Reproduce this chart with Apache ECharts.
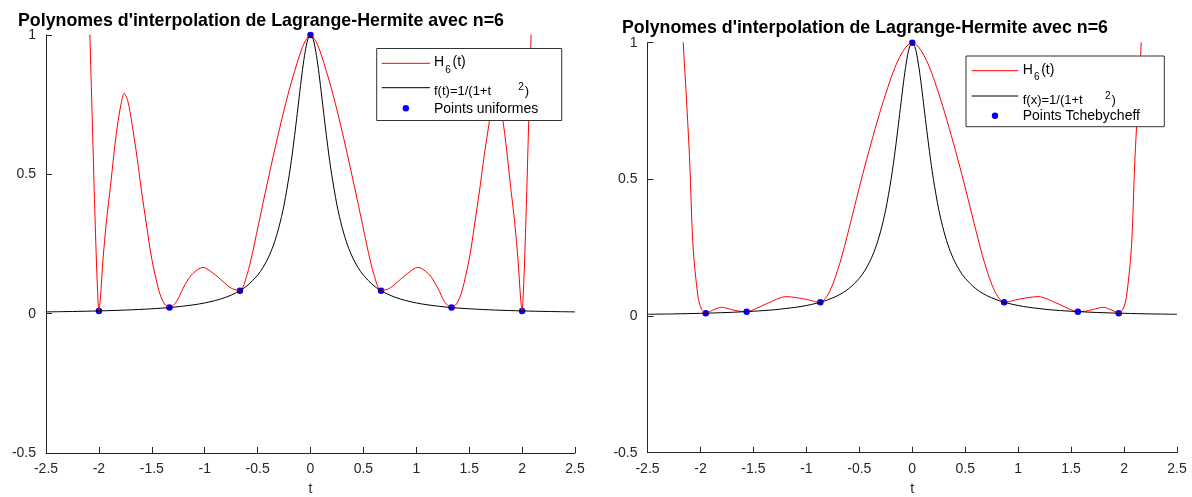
<!DOCTYPE html>
<html>
<head>
<meta charset="utf-8">
<script src="https://cdn.jsdelivr.net/npm/echarts@6/dist/echarts.min.js"></script>
<style>
  html, body { margin: 0; padding: 0; background: #fff; }
  #chart { width: 1192px; height: 497px; }
</style>
</head>
<body>
<div id="chart"></div>
<script>
const titleText = "Polynomes d'interpolation de Lagrange-Hermite avec n=6";

// f(t) = 1/(1+25t^2) (même courbe dans les deux graphes)
const fT = [-2.5, -2.25, -2, -1.75, -1.5, -1.3, -1.1, -1, -0.9, -0.8, -0.7, -0.6, -0.5, -0.45, -0.4, -0.35, -0.3, -0.25, -0.2, -0.175, -0.15, -0.125, -0.1, -0.075, -0.05, -0.025,
  0, 0.025, 0.05, 0.075, 0.1, 0.125, 0.15, 0.175, 0.2, 0.25, 0.3, 0.35, 0.4, 0.45, 0.5, 0.6, 0.7, 0.8, 0.9, 1, 1.1, 1.3, 1.5, 1.75, 2, 2.25, 2.5];
const fV = [0.0064, 0.0078, 0.0099, 0.0129, 0.0175, 0.0231, 0.032, 0.0385, 0.0471, 0.0588, 0.0755, 0.1, 0.138, 0.165, 0.2, 0.246, 0.308, 0.39, 0.5, 0.566, 0.64, 0.719, 0.8, 0.877, 0.941, 0.985,
  1, 0.985, 0.941, 0.877, 0.8, 0.719, 0.64, 0.566, 0.5, 0.39, 0.308, 0.246, 0.2, 0.165, 0.138, 0.1, 0.0755, 0.0588, 0.0471, 0.0385, 0.032, 0.0231, 0.0175, 0.0129, 0.0099, 0.0078, 0.0064];

// H6 avec points uniformes (graphe de gauche)
const hUnifT = [-2.11, -2.085, -2.063, -2.044, -2.0245, -2.012, -2, -1.985, -1.962, -1.928, -1.89, -1.859, -1.827, -1.792, -1.761, -1.725, -1.691, -1.638, -1.597, -1.55,
  -1.502, -1.43, -1.38, -1.3333, -1.267, -1.204, -1.125, -1.015, -0.92, -0.826, -0.748, -0.6667, -0.6, -0.55, -0.511, -0.43, -0.354, -0.27, -0.196, -0.101, -0.05,
  0, 0.05, 0.101, 0.196, 0.27, 0.354, 0.43, 0.511, 0.55, 0.6, 0.6667, 0.748, 0.826, 0.92, 1.015, 1.125, 1.204, 1.267, 1.3333, 1.38, 1.43,
  1.502, 1.55, 1.597, 1.638, 1.691, 1.725, 1.761, 1.792, 1.827, 1.859, 1.89, 1.928, 1.962, 1.985, 2, 2.012, 2.0245, 2.044, 2.063, 2.085, 2.11];
const hUnifV = [1.4, 1, 0.7, 0.438, 0.2, 0.079, 0.0099, 0.06, 0.19, 0.335, 0.46, 0.57, 0.67, 0.75, 0.791, 0.76, 0.69, 0.557, 0.44, 0.318,
  0.2, 0.079, 0.035, 0.022, 0.043, 0.091, 0.139, 0.166, 0.145, 0.115, 0.091, 0.0826, 0.14, 0.215, 0.285, 0.43, 0.562, 0.7, 0.81, 0.93, 0.978,
  1, 0.978, 0.93, 0.81, 0.7, 0.562, 0.43, 0.285, 0.215, 0.14, 0.0826, 0.091, 0.115, 0.145, 0.166, 0.139, 0.091, 0.043, 0.022, 0.035, 0.079,
  0.2, 0.318, 0.44, 0.557, 0.69, 0.76, 0.791, 0.75, 0.67, 0.57, 0.46, 0.335, 0.19, 0.06, 0.0099, 0.079, 0.2, 0.438, 0.7, 1, 1.4];
const nodesUnifT = [-2, -1.3333, -0.6667, 0, 0.6667, 1.3333, 2];
const nodesUnifV = [0.0099, 0.022, 0.0826, 1, 0.0826, 0.022, 0.0099];

// H6 avec points de Tchebycheff (graphe de droite)
const hChebT = [-2.18, -2.162, -2.133, -2.101, -2.07, -2.023, -1.99, -1.9499, -1.915, -1.882, -1.803, -1.708, -1.64, -1.5637, -1.47, -1.377, -1.188, -0.999, -0.93, -0.8678,
  -0.78, -0.684, -0.6, -0.526, -0.45, -0.369, -0.29, -0.212, -0.15, -0.086, -0.04,
  0, 0.04, 0.086, 0.15, 0.212, 0.29, 0.369, 0.45, 0.526, 0.6, 0.684, 0.78,
  0.8678, 0.93, 0.999, 1.188, 1.377, 1.47, 1.5637, 1.64, 1.708, 1.803, 1.882, 1.915, 1.9499, 1.99, 2.023, 2.07, 2.101, 2.133, 2.162, 2.18];
const hChebV = [1.3, 1, 0.802, 0.559, 0.254, 0.071, 0.025, 0.0104, 0.016, 0.022, 0.032, 0.024, 0.018, 0.0161, 0.028, 0.045, 0.071, 0.061, 0.054, 0.0504,
  0.09, 0.193, 0.315, 0.43, 0.545, 0.66, 0.765, 0.858, 0.922, 0.97, 0.992,
  1, 0.992, 0.97, 0.922, 0.858, 0.765, 0.66, 0.545, 0.43, 0.315, 0.193, 0.09,
  0.0504, 0.054, 0.061, 0.071, 0.045, 0.028, 0.0161, 0.018, 0.024, 0.032, 0.022, 0.016, 0.0104, 0.025, 0.071, 0.254, 0.559, 0.802, 1, 1.3];
const nodesChebT = [-1.9499, -1.5637, -0.8678, 0, 0.8678, 1.5637, 1.9499];
const nodesChebV = [0.0104, 0.0161, 0.0504, 1, 0.0504, 0.0161, 0.0104];

const zip = (xs, ys) => xs.map((x, i) => [x, ys[i]]);

const font = "'Liberation Sans', Arial, Helvetica, sans-serif";
const axisColor = '#262626';

function makeXAxis(gridIndex) {
  return {
    gridIndex: gridIndex,
    type: 'value',
    min: -2.5, max: 2.5, interval: 0.5,
    name: 't', nameLocation: 'middle', nameGap: 29,
    nameTextStyle: { fontFamily: font, fontSize: 14, color: axisColor },
    axisLine: { onZero: false, lineStyle: { color: axisColor, width: 1 } },
    axisTick: { inside: true, length: 6, lineStyle: { color: axisColor } },
    axisLabel: { fontFamily: font, fontSize: 14, color: axisColor, margin: 9 },
    splitLine: { show: false }
  };
}

function makeYAxis(gridIndex) {
  return {
    gridIndex: gridIndex,
    type: 'value',
    min: -0.5, max: 1, interval: 0.5,
    axisLine: { show: true, onZero: false, lineStyle: { color: axisColor, width: 1 } },
    axisTick: { show: true, inside: true, length: 6, lineStyle: { color: axisColor } },
    axisLabel: { fontFamily: font, fontSize: 14, color: axisColor, margin: 10 },
    splitLine: { show: false }
  };
}

// légende dessinée à la main (indices et exposants)
function txt(x, y, text, size) {
  return { type: 'text', z: 100, x: x, y: y,
    style: { text: text, font: size + 'px ' + font, fill: '#000', align: 'left', verticalAlign: 'middle' } };
}
function legendBox(b) {
  return [
    { type: 'rect', z: 99, shape: { x: b.x, y: b.y, width: b.w, height: b.h },
      style: { fill: '#fff', stroke: '#333', lineWidth: 1 } },
    { type: 'line', z: 100, shape: { x1: b.lineX1, y1: b.row1, x2: b.lineX2, y2: b.row1 }, style: { stroke: '#ff0000', lineWidth: 1 } },
    txt(b.textX, b.row1 - 0.8, 'H', 14),
    txt(b.textX + 11.3, b.row1 + 7, '6', 10),
    txt(b.textX + 18.5, b.row1 - 0.8, '(t)', 14),
    { type: 'line', z: 100, shape: { x1: b.lineX1, y1: b.row2, x2: b.lineX2, y2: b.row2 }, style: { stroke: '#000', lineWidth: 1 } },
    txt(b.textX, b.row2 + 4, b.fLabel, 13),
    txt(b.supX, b.row2, '2', 10),
    txt(b.supX + 6.5, b.row2 + 4, ')', 13),
    { type: 'circle', z: 100, shape: { cx: (b.lineX1 + b.lineX2) / 2, cy: b.row3, r: 3.2 }, style: { fill: '#0000ff' } },
    txt(b.textX, b.row3 + 0.5, b.pLabel, 14)
  ];
}

const chart = echarts.init(document.getElementById('chart'));

const option = {
  animation: false,
  backgroundColor: '#fff',
  title: [
    { text: titleText, left: 18, top: 12, padding: 0, textStyle: { fontFamily: font, fontSize: 17.8, fontWeight: 'bold', color: '#000' } },
    { text: titleText, left: 622, top: 19, padding: 0, textStyle: { fontFamily: font, fontSize: 17.8, fontWeight: 'bold', color: '#000' } }
  ],
  grid: [
    { left: 46, top: 35, width: 529, height: 418, outerBoundsMode: 'none', containLabel: false },
    { left: 647.5, top: 42.7, width: 529.5, height: 410, outerBoundsMode: 'none', containLabel: false }
  ],
  xAxis: [makeXAxis(0), makeXAxis(1)],
  yAxis: [makeYAxis(0), makeYAxis(1)],
  series: [
    { name: 'H6 uniforme', type: 'line', xAxisIndex: 0, yAxisIndex: 0, data: zip(hUnifT, hUnifV),
      symbol: 'none', smooth: 0.3, clip: true, lineStyle: { color: '#ff0000', width: 1 } },
    { name: 'f uniforme', type: 'line', xAxisIndex: 0, yAxisIndex: 0, data: zip(fT, fV),
      symbol: 'none', smooth: 0.3, lineStyle: { color: '#000', width: 1 } },
    { name: 'Points uniformes', type: 'scatter', xAxisIndex: 0, yAxisIndex: 0, data: zip(nodesUnifT, nodesUnifV),
      symbol: 'circle', symbolSize: 6.5, itemStyle: { color: '#0000ff', opacity: 1 } },

    { name: 'H6 Tchebycheff', type: 'line', xAxisIndex: 1, yAxisIndex: 1, data: zip(hChebT, hChebV),
      symbol: 'none', smooth: 0.3, clip: true, lineStyle: { color: '#ff0000', width: 1 } },
    { name: 'f Tchebycheff', type: 'line', xAxisIndex: 1, yAxisIndex: 1, data: zip(fT, fV),
      symbol: 'none', smooth: 0.3, lineStyle: { color: '#000', width: 1 } },
    { name: 'Points Tchebycheff', type: 'scatter', xAxisIndex: 1, yAxisIndex: 1, data: zip(nodesChebT, nodesChebV),
      symbol: 'circle', symbolSize: 6.5, itemStyle: { color: '#0000ff', opacity: 1 } }
  ],
  graphic: [].concat(
    legendBox({ x: 376.7, y: 48.5, w: 185, h: 72, lineX1: 381.7, lineX2: 430, textX: 434,
      row1: 63.3, row2: 87.7, row3: 108.3, supX: 518.3,
      fLabel: 'f(t)=1/(1+t', pLabel: 'Points uniformes' }),
    legendBox({ x: 966, y: 56, w: 198.3, h: 70.7, lineX1: 971.7, lineX2: 1018.3, textX: 1022.7,
      row1: 70.7, row2: 96, row3: 115.7, supX: 1105,
      fLabel: 'f(x)=1/(1+t', pLabel: 'Points Tchebycheff' })
  )
};

chart.setOption(option);
</script>
</body>
</html>
